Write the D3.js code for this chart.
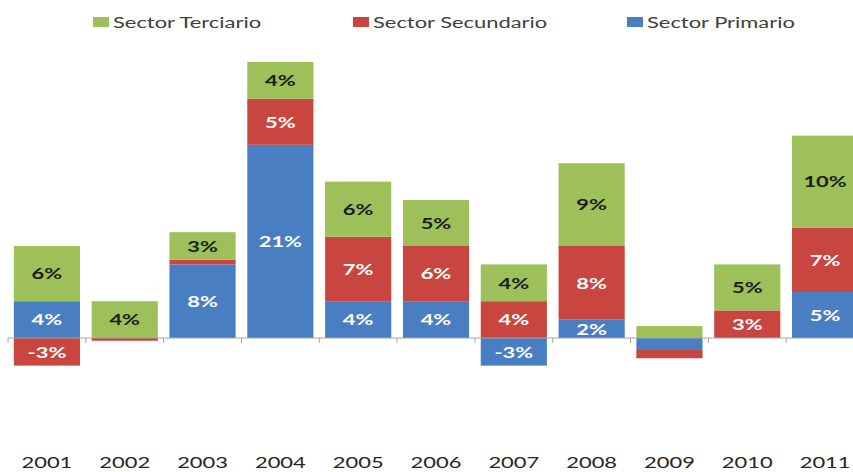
<!DOCTYPE html>
<html>
<head>
<meta charset="utf-8">
<script src="https://cdn.jsdelivr.net/npm/d3@7"></script>
<style>
  html, body { margin: 0; padding: 0; background: #fff; }
  svg { display: block; font-family: Lato, "Open Sans", sans-serif; }
</style>
</head>
<body>
<svg id="chart" width="853" height="472"></svg>
<script>
// Annual growth by economic sector (%)
const years = ["2001", "2002", "2003", "2004", "2005", "2006", "2007", "2008", "2009", "2010", "2011"];
const primario   = [4, 0, 8, 21, 4, 4, -3, 2, -1.3, 0, 5];
const secundario = [-3, -0.3, 0.5, 5, 7, 6, 4, 8, -0.9, 3, 7];
const terciario  = [6, 4, 3, 4, 6, 5, 4, 9, 1.3, 5, 10];

const seriesKeys = ["primario", "secundario", "terciario"];
const seriesNames = { primario: "Sector Primario", secundario: "Sector Secundario", terciario: "Sector Terciario" };
const legendOrder = ["terciario", "secundario", "primario"];
const colors = { primario: "#4A7EC2", secundario: "#C9453F", terciario: "#9DC05B" };
const labelColors = { primario: "#ffffff", secundario: "#ffffff", terciario: "#1c1c1c" };

const rows = years.map((year, i) => ({
  year,
  primario: primario[i],
  secundario: secundario[i],
  terciario: terciario[i]
}));

const svg = d3.select("#chart");
const stretch = 1.37; // horizontal text stretch

const x = d3.scaleBand().domain(years).range([8, 864]).paddingInner(0.15).paddingOuter(0.075);
const y = d3.scaleLinear().domain([0, 30]).range([338, 62]);

const stacked = d3.stack()
  .keys(seriesKeys)
  .offset(d3.stackOffsetDiverging)(rows);

// bars
const layers = svg.append("g").selectAll("g")
  .data(stacked)
  .join("g")
  .attr("fill", d => colors[d.key]);

layers.selectAll("rect")
  .data(d => d)
  .join("rect")
  .attr("x", d => x(d.data.year))
  .attr("width", x.bandwidth())
  .attr("y", d => y(Math.max(d[0], d[1])))
  .attr("height", d => Math.abs(y(d[0]) - y(d[1])));

// zero line with ticks between categories
const axisG = svg.append("g").attr("transform", `translate(0,${y(0)})`);
axisG.append("line")
  .attr("x1", x.range()[0]).attr("x2", x.range()[1])
  .attr("stroke", "#a6a6a6").attr("stroke-width", 1);
const step = x.step();
const boundaries = years.map((yr, i) => x(yr) - step * x.paddingInner() / 2);
axisG.selectAll("line.tick")
  .data(boundaries)
  .join("line")
  .attr("class", "tick")
  .attr("x1", d => d).attr("x2", d => d)
  .attr("y1", 0).attr("y2", 5)
  .attr("stroke", "#a6a6a6");

// value labels
stacked.forEach(layer => {
  svg.append("g").selectAll("text")
    .data(layer.filter(d => Math.abs(d[1] - d[0]) >= 2))
    .join("text")
    .attr("transform", d => `translate(${x(d.data.year) + x.bandwidth() / 2},${(y(d[0]) + y(d[1])) / 2}) scale(${stretch},1)`)
    .attr("text-anchor", "middle")
    .attr("dy", "0.36em")
    .attr("font-size", 16)
    .attr("font-weight", "bold")
    .attr("fill", labelColors[layer.key])
    .text(d => `${d.data[layer.key]}%`);
});

// category labels
const catAxis = d3.axisBottom(x).tickSize(0).tickPadding(0);
const catG = svg.append("g").attr("transform", "translate(0,456)").call(catAxis);
catG.select(".domain").remove();
catG.selectAll("text")
  .attr("font-family", "Lato, 'Open Sans', sans-serif")
  .attr("font-size", 16)
  .attr("fill", "#262626")
  .attr("dy", "0.72em")
  .attr("transform", `scale(${stretch},1)`)
  .attr("x", 0);
catG.selectAll(".tick text").each(function () {
  // keep the stretch centred on each tick
  d3.select(this).attr("transform", `scale(${stretch},1)`);
});

// legend
const legendX = { terciario: 93, secundario: 353, primario: 627 };
const legend = svg.append("g").selectAll("g")
  .data(legendOrder)
  .join("g")
  .attr("transform", d => `translate(${legendX[d]},17)`);
legend.append("rect")
  .attr("width", 16).attr("height", 10)
  .attr("fill", d => colors[d]);
legend.append("text")
  .attr("transform", `translate(20,11) scale(${stretch},1)`)
  .attr("font-size", 16)
  .attr("fill", "#404040")
  .text(d => seriesNames[d]);
</script>
</body>
</html>
